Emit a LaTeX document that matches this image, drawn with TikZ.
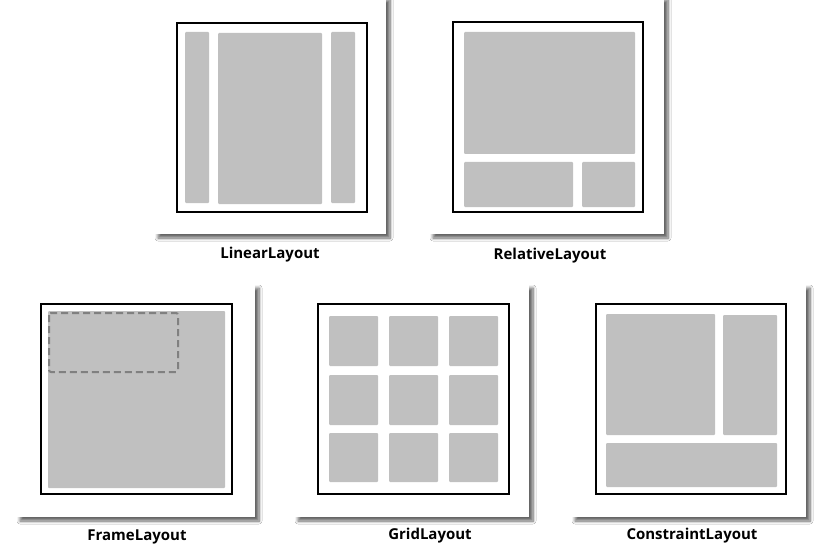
\documentclass[tikz,border=0pt]{standalone}
\usepackage{fontspec}
\setmainfont{Open Sans}
\usepackage{tikz}
\usetikzlibrary{shadows.blur}
\definecolor{cellgray}{HTML}{C0C0C0}
\definecolor{dashgray}{HTML}{808080}

\begin{document}
\begin{tikzpicture}[x=1pt,y=-1pt,
	card/.style={fill=white,blur shadow={shadow xshift=4pt,shadow yshift=-4pt,shadow blur radius=3pt,shadow blur steps=8,shadow opacity=60}},
	frame/.style={draw=black,line width=2pt},
	cell/.style={fill=cellgray,rounded corners=1pt},
	title/.style={font=\bfseries\fontsize{15}{18}\selectfont}]
	\useasboundingbox[fill=white] (0,0) rectangle (840,556);
	%
	% cards
	\path[card] (154,-4) rectangle (386,234);
	\path[card] (429,-4) rectangle (664,234);
	\path[card] (16,284) rectangle (255,517);
	\path[card] (294,284) rectangle (529,517);
	\path[card] (571,284) rectangle (806,517);
	%
	% LinearLayout
	\draw[frame] (177,23) rectangle (367,212);
	\fill[cell] (185,32) rectangle (209,203);
	\fill[cell] (218,33) rectangle (322,204);
	\fill[cell] (331,32) rectangle (355,203);
	\node[title] (linear) at (270,255) {LinearLayout};
	%
	% RelativeLayout
	\draw[frame] (453,22) rectangle (643,212);
	\fill[cell] (464,32) rectangle (635,154);
	\fill[cell] (464,162) rectangle (573,207);
	\fill[cell] (582,162) rectangle (635,207);
	\node[title] (relative) at (550,256) {RelativeLayout};
	%
	% FrameLayout
	\draw[frame] (41,304) rectangle (232,494);
	\fill[cell] (48,311) rectangle (225,488);
	\draw[dashgray,line width=2pt,dash pattern=on 7pt off 4pt,rounded corners=2pt] (49,313) rectangle (178,372);
	\node[title] (frame) at (137,537) {FrameLayout};
	%
	% GridLayout
	\draw[frame] (318,304) rectangle (509,494);
	\fill[cell] (329,316) rectangle (378,366);
	\fill[cell] (389,316) rectangle (438,366);
	\fill[cell] (449,316) rectangle (498,366);
	\fill[cell] (329,375) rectangle (378,425);
	\fill[cell] (389,375) rectangle (438,425);
	\fill[cell] (449,375) rectangle (498,425);
	\fill[cell] (329,433) rectangle (378,482);
	\fill[cell] (389,433) rectangle (438,482);
	\fill[cell] (449,433) rectangle (498,482);
	\node[title] (grid) at (430,536) {GridLayout};
	%
	% ConstraintLayout
	\draw[frame] (596,304) rectangle (786,494);
	\fill[cell] (606,314) rectangle (715,435);
	\fill[cell] (723,315) rectangle (777,435);
	\fill[cell] (606,443) rectangle (777,487);
	\node[title] (constraint) at (692,536) {ConstraintLayout};
\end{tikzpicture}
\end{document}
